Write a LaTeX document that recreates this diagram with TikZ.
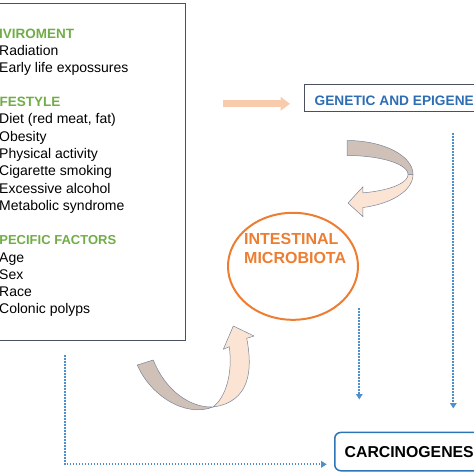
\documentclass[tikz,border=0pt]{standalone}
\usepackage{fontspec}
\setmainfont{Liberation Sans}
\usetikzlibrary{shapes.geometric,arrows.meta}
\definecolor{hdgreen}{HTML}{70AD47}
\definecolor{orng}{HTML}{ED7D31}
\definecolor{peachA}{HTML}{F8CBAD}
\definecolor{bandgray}{HTML}{CFC1B7}
\definecolor{bandpeach}{HTML}{FBE4D4}
\definecolor{bandline}{HTML}{7A8598}
\definecolor{dotblue}{HTML}{4F8FCB}
\definecolor{genblue}{HTML}{2E6DB4}
\definecolor{genframe}{HTML}{4A5060}
\definecolor{carcblue}{HTML}{2E75B6}
\tikzset{
  body/.style={font=\fontsize{14}{16}\selectfont, inner sep=0pt, anchor=base west},
  hd/.style={font=\fontsize{13.5}{16}\selectfont\bfseries, text=hdgreen, inner sep=0pt, anchor=base west},
  bandout/.style={draw=bandline, line width=0.5pt, line join=round},
  dotline/.style={draw=dotblue, line width=1.8pt, dash pattern=on 1.6pt off 1.4pt, -{Triangle[width=6.5pt,length=5.5pt]}}
}
\begin{document}
\begin{tikzpicture}[x=1pt,y=-1pt]
\useasboundingbox (0,0) rectangle (474,474);
\clip (0,0) rectangle (474,474);

% left box
\node[draw=genframe, line width=0.8pt, anchor=north west, minimum width=191pt, minimum height=337.3pt, inner sep=0pt] (factors) at (-5.7,2.7) {};
\node[hd] (h1) at (-1.2,38.3) {IVIROMENT};
\node[body] (l1) at (-1,55.5) {Radiation};
\node[body] (l2) at (-1,72.8) {Early life expossures};
\node[hd] (h2) at (-0.6,106) {FESTYLE};
\node[body] (l3) at (-1,123.5) {Diet (red meat, fat)};
\node[body] (l4) at (-1,141) {Obesity};
\node[body] (l5) at (-1,158.3) {Physical activity};
\node[body] (l6) at (-1,175.6) {Cigarette smoking};
\node[body] (l7) at (-1,193) {Excessive alcohol};
\node[body] (l8) at (-1,210.2) {Metabolic syndrome};
\node[hd, font=\fontsize{13}{16}\selectfont\bfseries] (h3) at (-0.8,244) {PECIFIC FACTORS};
\node[body] (l9) at (-1,262) {Age};
\node[body] (l10) at (-1,279) {Sex};
\node[body] (l11) at (-1,296.5) {Race};
\node[body] (l12) at (-1,313.7) {Colonic polyps};

% genetic box
\node[draw=genframe, line width=0.8pt, anchor=north west, minimum width=180pt, minimum height=26.7pt, inner sep=0pt] (gen) at (304,84.3) {};
\node[font=\fontsize{13.7}{16}\selectfont\bfseries, text=genblue, inner sep=0pt, anchor=base west] (gentext) at (314.5,105) {GENETIC AND EPIGENE};

% straight orange arrow
\coordinate (oa1) at (223.3,103.8);
\coordinate (oa2) at (290,103.8);
\draw[peachA, line width=7.2pt, -{Triangle[length=9.3pt,width=13.3pt]}] (oa1) -- (oa2);

% microbiota ellipse
\node[ellipse, draw=orng, line width=2pt, minimum width=130pt, minimum height=107pt, inner sep=0pt] (micro) at (293,266.3) {};
\node[font=\fontsize{16}{19}\selectfont\bfseries, text=orng, align=left, inner sep=0pt, anchor=base west] (microtext) at (244,263.3) {INTESTINAL\\MICROBIOTA};

% curved arrow top right (genetic -> microbiota)
\filldraw[bandout, fill=bandgray] plot[domain=-90:0,samples=40] ({347+66*cos(\x)},{174.5+34*sin(\x)}) -- plot[domain=0:-90,samples=40] ({347+61*cos(\x)},{174.5+19*sin(\x)}) -- cycle;
\filldraw[bandout, fill=bandpeach] plot[domain=0:76,samples=40] ({347+66*cos(\x)},{174.5+34*sin(\x)}) -- (363,216.7) -- (348,203) -- (363,186.7) -- plot[domain=75:0,samples=40] ({347+61*cos(\x)},{174.5+19*sin(\x)}) -- cycle;

% curved arrow bottom (factors -> microbiota)
\filldraw[bandout, fill=bandgray] (153.3,360) .. controls (165,390) and (190,408) .. (213,407) .. controls (185,418) and (150,395) .. (137.3,365) -- cycle;
\filldraw[bandout, fill=bandpeach] (213,407) .. controls (250,402) and (253,370) .. (246.7,338.3) -- (254,336) -- (233.3,326) -- (223.3,349.3) -- (229.3,346.7) .. controls (233,375) and (225,398) .. (213,407) -- cycle;

% carcinogenesis box
\node[draw=carcblue, line width=1.5pt, rounded corners=6pt, anchor=north west, minimum width=160pt, minimum height=38.3pt, inner sep=0pt] (carc) at (334,431.7) {};
\node[font=\fontsize{15.8}{18}\selectfont\bfseries, inner sep=0pt, anchor=base west] (carctext) at (344.5,457) {CARCINOGENES};

% dotted connectors
\coordinate (d1s) at (65,355);
\coordinate (d1e) at (326.7,464.3);
\draw[dotline] (d1s) |- (d1e);
\coordinate (d2s) at (359.3,308);
\coordinate (d2e) at (359.3,399.5);
\draw[dotline] (d2s) -- (d2e);
\coordinate (d3s) at (453.3,133);
\coordinate (d3e) at (453.3,408.5);
\draw[dotline] (d3s) -- (d3e);
\end{tikzpicture}
\end{document}
